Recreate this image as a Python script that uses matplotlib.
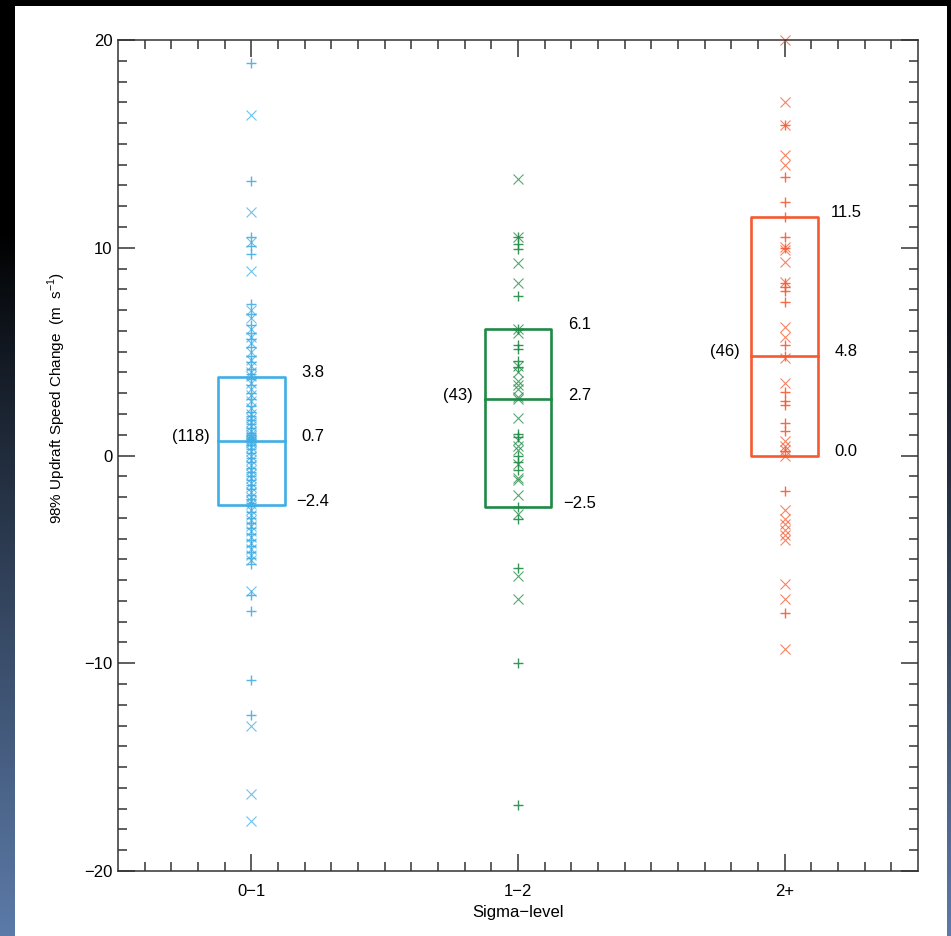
#!/usr/bin/env python3
# -*- coding: utf-8 -*-

import numpy as np
import matplotlib
matplotlib.use("Agg")
import matplotlib.pyplot as plt
from matplotlib.patches import Rectangle


# DATA
categories = ["0\u22121", "1\u22122", "2+"]
counts = [118, 43, 46]
medians = [0.7, 2.7, 4.8]
q1s = [-2.4, -2.5, 0.0]
q3s = [3.8, 6.1, 11.5]

# sigma 0-1
low_plus = [18.9, 13.2, 10.5, 10.1, 9.7, 7.3, 6.8, 6.3, 5.9, 5.6, 5.2, 4.8, 4.5, 4.15, 3.9,
            3.7, 3.4, 3.0, 2.7, 2.4, 2.1, 1.9, 1.7, 1.5, 1.3, 1.1, 1.0, 0.9, 0.8, 0.72,
            0.7, 0.5, 0.3, 0.1, -0.1, -0.3, -0.6, -0.8, -1.0, -1.2, -1.4, -1.6, -1.9, -2.1, -2.3,
            -2.45, -2.7, -3.0, -3.25, -3.5, -3.8, -4.05, -4.35, -4.65, -4.95, -5.2,
            -6.7, -7.5, -10.8, -12.5]
low_x = [16.4, 11.7, 10.3, 8.9, 7.0, 6.6, 6.1, 5.7, 5.4, 5.0, 4.6, 4.3, 4.0, 3.85,
         3.5, 3.2, 2.9, 2.6, 2.3, 2.0, 1.8, 1.6, 1.4, 1.2, 1.05, 0.95, 0.85, 0.75,
         0.7, 0.6, 0.4, 0.2, 0.0, -0.2, -0.45, -0.7, -0.9, -1.1, -1.3, -1.5, -1.75, -2.0, -2.2, -2.35,
         -2.6, -2.85, -3.1, -3.4, -3.65, -3.9, -4.2, -4.5, -4.8, -5.05,
         -6.5, -13.0, -16.3, -17.6]

# sigma 1-2
mid_plus = [10.5, 10.2, 9.95, 7.7, 6.1, 5.3, 5.15, 4.55, 4.25, 1.05, 0.9, 0.0, -0.3, -0.7,
            -2.5, -3.05, -5.4, -10.0, -16.8]
mid_x = [13.3, 10.5, 9.25, 8.3, 6.1, 5.9, 4.3, 4.0, 3.6, 3.4, 3.2, 2.8, 2.7, 1.8,
         0.75, 0.45, 0.25, -0.4, -1.1, -1.2, -1.9, -2.8, -5.8, -6.9]

# sigma 2+
high_plus = [15.9, 13.4, 12.2, 11.5, 10.5, 10.0, 8.3, 8.1, 7.9, 7.4, 5.3, 4.8, 3.05,
             2.6, 2.45, 1.55, 1.2, 0.2, -1.7, -7.6]
high_x = [20.0, 17.0, 15.9, 14.45, 14.0, 10.05, 9.9, 9.3, 8.35, 6.2, 5.7, 4.7, 3.5,
          0.7, 0.45, 0.25, 0.0, -2.6, -3.05, -3.3, -3.6, -3.85, -4.05, -6.2, -6.9, -9.3]

plus_sets = [low_plus, mid_plus, high_plus]
x_sets = [low_x, mid_x, high_x]
colors = ["#3FAEE6", "#1E8A45", "#F55A30"]

FONT = ["Liberation Sans", "DejaVu Sans"]
plt.rcParams["font.family"] = FONT


# FIGURE
fig = plt.figure(figsize=(9.51, 9.36), dpi=100)
fig.patch.set_facecolor("black")

# dark frame with a blue gradient along the edges
bg = fig.add_axes([0, 0, 1, 1])
bg.set_axis_off()
t = np.linspace(0, 1, 256)
ramp = np.clip((t - 0.25) / 0.75, 0, 1) ** 0.9
grad = np.stack([0.36 * ramp, 0.48 * ramp, 0.66 * ramp], axis=1)[:, None, :]
bg.imshow(grad, aspect="auto", extent=[0, 1, 0, 1], origin="upper")
bg.set_xlim(0, 1)
bg.set_ylim(0, 1)
bg.add_patch(Rectangle((15 / 951, 0), (947 - 15) / 951, 1 - 6 / 936,
                       facecolor="white", edgecolor="none"))

ax = fig.add_axes([118 / 951, 1 - 871 / 936, 800 / 951, 831 / 936])
ax.set_facecolor("white")

pos = np.arange(1, len(categories) + 1)
hw = 0.125

for i, p in enumerate(pos):
    c = colors[i]
    ax.plot(np.full(len(plus_sets[i]), p), plus_sets[i], linestyle="none", marker="+",
            ms=7, mew=1.0, color=c, alpha=0.9, clip_on=False)
    ax.plot(np.full(len(x_sets[i]), p), x_sets[i], linestyle="none", marker="x",
            ms=6.5, mew=0.8, color=c, alpha=0.75, clip_on=False)

    # box and median
    ax.add_patch(Rectangle((p - hw, q1s[i]), 2 * hw, q3s[i] - q1s[i], fill=False,
                           edgecolor=c, linewidth=1.9, joinstyle="round"))
    ax.plot([p - hw, p + hw], [medians[i], medians[i]], color=c, linewidth=1.9)

    for v in (q3s[i], medians[i], q1s[i]):
        ax.annotate(f"{v:.1f}".replace("-", "\u2212"), (p + hw + 0.105, v),
                    xytext=(0, 3), textcoords="offset points",
                    ha="center", va="center", fontsize=12)
    ax.annotate(f"({counts[i]})", (p - hw - 0.1, medians[i]),
                xytext=(0, 3), textcoords="offset points",
                ha="center", va="center", fontsize=12)

ax.set_xlim(0.5, 3.5)
ax.set_ylim(-20, 20)
ax.set_xticks(pos)
ax.set_xticklabels(categories)
ax.set_xticks(np.arange(0.6, 3.45, 0.1), minor=True)
ax.set_yticks([-20, -10, 0, 10, 20])
ax.set_yticklabels(["\u221220", "\u221210", "0", "10", "20"])
ax.set_yticks(np.arange(-19, 20, 1), minor=True)

ax.tick_params(which="both", direction="in", top=True, right=True, color="#333333",
               width=1.1, labelsize=12)
ax.tick_params(which="major", length=12)
ax.tick_params(which="minor", length=6.5)
ax.tick_params(axis="x", which="major", pad=9)
ax.tick_params(axis="y", which="major", pad=4)
for s in ax.spines.values():
    s.set_linewidth(1.1)
    s.set_color("#333333")

ax.set_xlabel("Sigma\u2212level", fontsize=12)
ax.xaxis.set_label_coords(0.5, (871 - 913) / 831)
ax.xaxis.label.set_va("center")
ax.set_ylabel("98% Updraft Speed Change  (m  s$^{\\mathregular{-1}}$)", fontsize=11)
ax.yaxis.set_label_coords((57 - 118) / 800, (871 - 398) / 831)
ax.yaxis.label.set_va("center")

fig.savefig("out.png", dpi=100)
plt.close(fig)
